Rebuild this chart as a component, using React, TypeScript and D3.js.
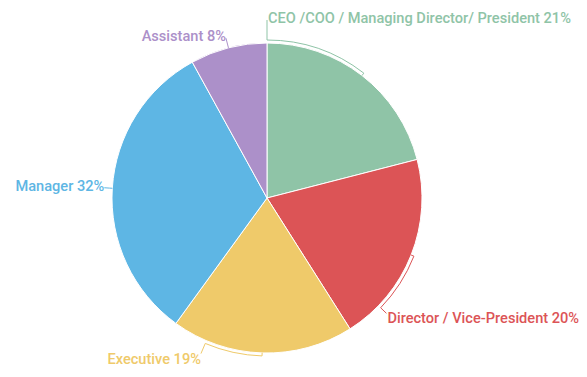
import React from "react";
import * as d3 from "d3";

const categories = [
  "CEO /COO / Managing Director/ President",
  "Director / Vice-President",
  "Executive",
  "Manager",
  "Assistant",
];
const values = [21, 20, 19, 32, 8];
const colors = ["#8fc4a7", "#dc5456", "#efca6a", "#5eb6e4", "#ac90c9"];
// layout: angle (degrees from top, clockwise) where each label line leaves the pie, and its extra length
const labelAnglesDeg = [0, 134, 203, null, null];
const labelExtra = [23, 11, 14, 8, 10];

const W = 587;
const H = 377;
const cx = 267;
const cy = 198;
const R = 155;

function polar(a: number, r: number): [number, number] {
  return [cx + r * Math.sin(a), cy - r * Math.cos(a)];
}

export default function App() {
  const data = categories.map((c, i) => ({ name: c, value: values[i], i }));
  const pie = d3
    .pie<any>()
    .sort(null)
    .value((d) => d.value)
    .startAngle(0)
    .endAngle(2 * Math.PI);
  const arcs = pie(data);
  const arcGen = d3.arc<any>().innerRadius(0).outerRadius(R);

  return (
    <svg
      width={W}
      height={H}
      style={{ position: "absolute", left: 0, top: 0 }}
      fontFamily="Roboto, sans-serif"
    >
      <g>
        {arcs.map((a, k) => (
          <path
            key={k}
            d={arcGen(a) as string}
            transform={`translate(${cx},${cy})`}
            fill={colors[k]}
            stroke="#fff"
            strokeWidth={1}
          />
        ))}
      </g>
      {arcs.map((a, k) => {
        const mid = (a.startAngle + a.endAngle) / 2;
        const la =
          labelAnglesDeg[k] === null ? mid : ((labelAnglesDeg[k] as number) * Math.PI) / 180;
        const rb = R + 3;
        const p = d3.path();
        const p0 = polar(mid, R);
        const p1 = polar(mid, rb);
        p.moveTo(p0[0], p0[1]);
        p.lineTo(p1[0], p1[1]);
        if (Math.abs(la - mid) > 1e-6) {
          p.arc(cx, cy, rb, mid - Math.PI / 2, la - Math.PI / 2, la < mid);
        }
        const pe = polar(la, R + labelExtra[k]);
        p.lineTo(pe[0], pe[1]);
        const right = pe[0] >= cx - 1;
        const below = pe[1] > cy;
        const tx = right ? pe[0] + 1 : pe[0];
        const ty = below ? pe[1] + 10 : pe[1] + 3;
        return (
          <g key={"l" + k}>
            <path d={p.toString()} fill="none" stroke={colors[k]} strokeWidth={1} />
            <text
              x={tx}
              y={ty}
              textAnchor={right ? "start" : "end"}
              fill={colors[k]}
              fontSize={14.6}
              fontWeight={500}
            >
              {`${a.data.name} ${a.data.value}%`}
            </text>
          </g>
        );
      })}
    </svg>
  );
}
